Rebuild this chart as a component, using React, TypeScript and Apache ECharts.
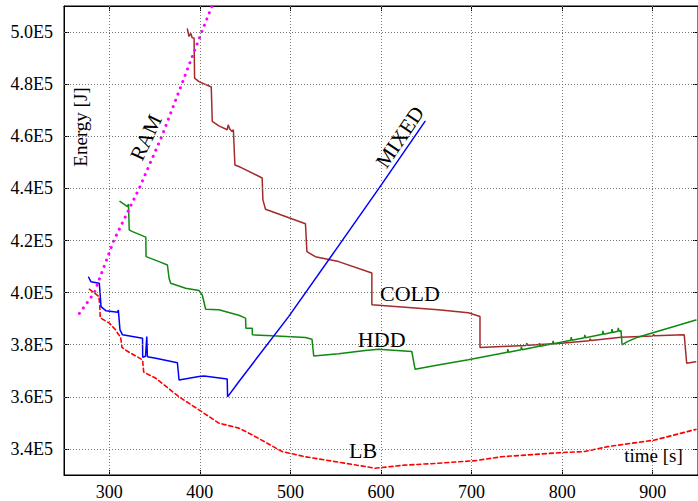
import React, { useEffect, useRef } from 'react';
import * as echarts from 'echarts';

// Axis ticks
const xTicks = [300, 400, 500, 600, 700, 800, 900];
const yTicks = [340000, 360000, 380000, 400000, 420000, 440000, 460000, 480000, 500000];

// [time s, energy J]
const ramData = [
  [267, 392000], [283.5, 400000], [305, 420000], [333, 440000], [358, 460000],
  [380, 480000], [402, 500000], [413.4, 510000], [415.6, 512000],
];

const lbData = [
  [278, 401300], [283, 400000], [288.5, 398500], [289.5, 395000], [290, 390300],
  [300, 388300], [307, 385700], [310, 384000], [312.5, 383000], [314, 379000],
  [320, 377500], [336.7, 374200], [338, 369500], [351.4, 367100], [377, 360000],
  [399, 355000], [421, 349900], [443, 348000], [457.8, 345400], [490.8, 339000],
  [516.6, 337000], [560.6, 334500], [593.6, 332600], [626.6, 333800], [663, 334500],
  [704, 335500], [733, 337000], [799, 338600], [824.8, 339000], [850.5, 340900],
  [901.9, 343400], [947.7, 347500],
];

const coldData = [
  [386.2, 501200], [388, 498300], [390, 499500], [391.5, 497800], [393.6, 497700],
  [394.2, 482300], [399, 481000], [412.6, 478900], [413.7, 465700], [421, 464000],
  [430.2, 462500], [431.3, 464400], [433, 462800], [435.6, 461800], [437, 462500],
  [438.7, 449000], [443, 448400], [446.8, 447800], [468.8, 444000], [469.6, 435600],
  [472.5, 432000], [516.6, 426400], [518.2, 415700], [527.5, 413800], [553.2, 411900],
  [589.9, 407500], [589.9, 395300], [626.6, 394400], [663, 393400], [696.4, 392300],
  [709.3, 390800], [709.3, 378900], [733, 379300], [760, 379700], [761, 380500],
  [762, 379800], [799, 380600], [830, 381500], [831, 382300], [832, 381600],
  [865, 382900], [900, 383300], [901, 384000], [902, 383400], [934.8, 383800],
  [937.5, 372900], [947.4, 373500],
];

const hddData = [
  [311.8, 435000], [320.1, 433000], [321.2, 434000], [322, 424100], [325.6, 423400],
  [340.3, 421300], [340.6, 413800], [355, 411900], [364.2, 410600], [366, 405500],
  [367.8, 403600], [384.3, 401700], [399, 400800], [402.7, 399100], [406.4, 393600],
  [421, 393400], [443, 391300], [450.5, 390200], [450.8, 386300], [457.8, 386300],
  [458, 383800], [479.8, 383400], [516.6, 382800], [523.8, 382100], [525.7, 375700],
  [553.2, 376500], [582.6, 377800], [597.3, 378300], [634, 377400], [637.6, 370600],
  [663, 372200], [696.4, 374200], [739.5, 377100], [740, 378300], [740.8, 377100],
  [754.5, 378100], [755, 379300], [755.8, 378100], [774.5, 379400], [775, 380600],
  [775.8, 379400], [789.5, 380400], [790, 381500], [790.8, 380400], [809.5, 381700],
  [810, 382900], [810.8, 381700], [824.5, 382700], [825, 383800], [825.8, 382700],
  [844.5, 384000], [845, 385300], [845.8, 384000], [854.5, 384700], [855, 386000],
  [855.8, 384700], [861.5, 385200], [862, 386500], [862.8, 385200], [865, 385400],
  [866.2, 379900], [872, 381200], [883.5, 382900], [947.7, 389500],
];

const mixedData = [
  [277.2, 405900], [279.7, 404200], [289, 403600], [290.9, 394600], [296.4, 393000],
  [309.2, 392500], [310, 393300], [311.8, 385700], [314.6, 383800], [336.7, 382500],
  [336.9, 375200], [340, 375600], [341.4, 383100], [342.1, 375400], [351.4, 374800],
  [375.2, 373100], [377, 366500], [399, 367800], [404.6, 368000], [430.2, 366800],
  [430.6, 360000], [443, 365800], [498, 390800], [550, 416400], [599, 440700],
  [648.6, 465700],
];

const FONT = '"Liberation Serif", "Times New Roman", serif';

const gridLineStyle = { color: '#777', type: [1, 2] as number[], width: 1 };

function lineSeries(name: string, data: number[][], color: string, type: any, width: number) {
  return {
    name,
    type: 'line',
    data,
    showSymbol: false,
    symbol: 'none',
    z: 3,
    lineStyle: { color, width, type, cap: 'round' },
    clip: true,
  };
}

export default function App() {
  const ref = useRef<HTMLDivElement>(null);

  useEffect(() => {
    const chart = echarts.init(ref.current!, null, { renderer: 'svg' });

    const textStyle = (text: string, size: number) => ({
      text,
      fontFamily: FONT,
      fontSize: size,
      fill: '#000',
      align: 'center',
      verticalAlign: 'middle',
    });

    chart.setOption({
      animation: false,
      backgroundColor: '#fff',
      grid: {
        left: 64,
        top: 6,
        width: 636,
        height: 469,
        show: true,
        borderColor: '#000',
        borderWidth: 1,
        backgroundColor: 'transparent',
      },
      xAxis: [
        {
          type: 'value',
          min: 250,
          max: 950,
          axisLine: { show: true, onZero: false, lineStyle: { color: '#000', width: 1 } },
          axisTick: { show: true, inside: true, length: 5, customValues: xTicks, lineStyle: { color: '#000' } },
          axisLabel: { customValues: xTicks, fontFamily: FONT, fontSize: 18, color: '#000', margin: 8 },
          splitLine: { show: false },
        },
        {
          type: 'value',
          position: 'top',
          min: 250,
          max: 950,
          axisLine: { show: true, onZero: false, lineStyle: { color: '#000', width: 1 } },
          axisTick: { show: true, inside: true, length: 5, customValues: xTicks, lineStyle: { color: '#000' } },
          axisLabel: { show: false },
          splitLine: { show: false },
        },
      ],
      yAxis: [
        {
          type: 'value',
          min: 330000,
          max: 510000,
          axisLine: { show: true, onZero: false, lineStyle: { color: '#000', width: 1 } },
          axisTick: { show: true, inside: true, length: 5, customValues: yTicks, lineStyle: { color: '#000' } },
          axisLabel: {
            customValues: yTicks,
            fontFamily: FONT,
            fontSize: 18,
            color: '#000',
            margin: 11,
            formatter: (v: number) => (v / 1e5).toFixed(1) + 'E5',
          },
          splitLine: { show: false },
        },
        {
          type: 'value',
          position: 'right',
          min: 330000,
          max: 510000,
          axisLine: { show: true, onZero: false, lineStyle: { color: '#000', width: 1 } },
          axisTick: { show: true, inside: true, length: 5, customValues: yTicks, lineStyle: { color: '#000' } },
          axisLabel: { show: false },
          splitLine: { show: false },
        },
      ],
      series: [
        {
          name: 'grid',
          type: 'line',
          data: [[250, 330000]],
          showSymbol: false,
          symbol: 'none',
          lineStyle: { opacity: 0 },
          silent: true,
          z: 1,
          markLine: {
            silent: true,
            symbol: ['none', 'none'],
            label: { show: false },
            lineStyle: gridLineStyle,
            emphasis: { disabled: true },
            data: [
              ...yTicks.map((v) => ({ yAxis: v })),
              ...xTicks.map((v) => ({ xAxis: v })),
            ],
          },
        },
        lineSeries('LB', lbData, '#ff0000', [4, 3], 1.6),
        lineSeries('COLD', coldData, '#a52a2a', 'solid', 1.5),
        lineSeries('HDD', hddData, '#0e8a0e', 'solid', 1.5),
        lineSeries('MIXED', mixedData, '#0000ff', 'solid', 1.5),
        lineSeries('RAM', ramData, '#ff00ff', [0.1, 6.6], 3),
      ],
      graphic: [
        { type: 'text', x: 80.5, y: 127, rotation: Math.PI / 2, style: textStyle('Energy [J]', 19), z: 10 },
        { type: 'text', x: 653.5, y: 455, style: textStyle('time [s]', 19), z: 10 },
        { type: 'text', x: 146, y: 137.5, rotation: (65 * Math.PI) / 180, style: textStyle('RAM', 21), z: 10 },
        { type: 'text', x: 400, y: 137, rotation: (56 * Math.PI) / 180, style: textStyle('MIXED', 21), z: 10 },
        { type: 'text', x: 410, y: 293.5, style: textStyle('COLD', 22), z: 10 },
        { type: 'text', x: 381.7, y: 339.5, style: textStyle('HDD', 22), z: 10 },
        { type: 'text', x: 363, y: 450, style: textStyle('LB', 22), z: 10 },
      ],
    });

    return () => chart.dispose();
  }, []);

  return (
    <div
      ref={ref}
      style={{ position: 'fixed', left: 0, top: 0, width: 698, height: 501, background: '#fff' }}
    />
  );
}
